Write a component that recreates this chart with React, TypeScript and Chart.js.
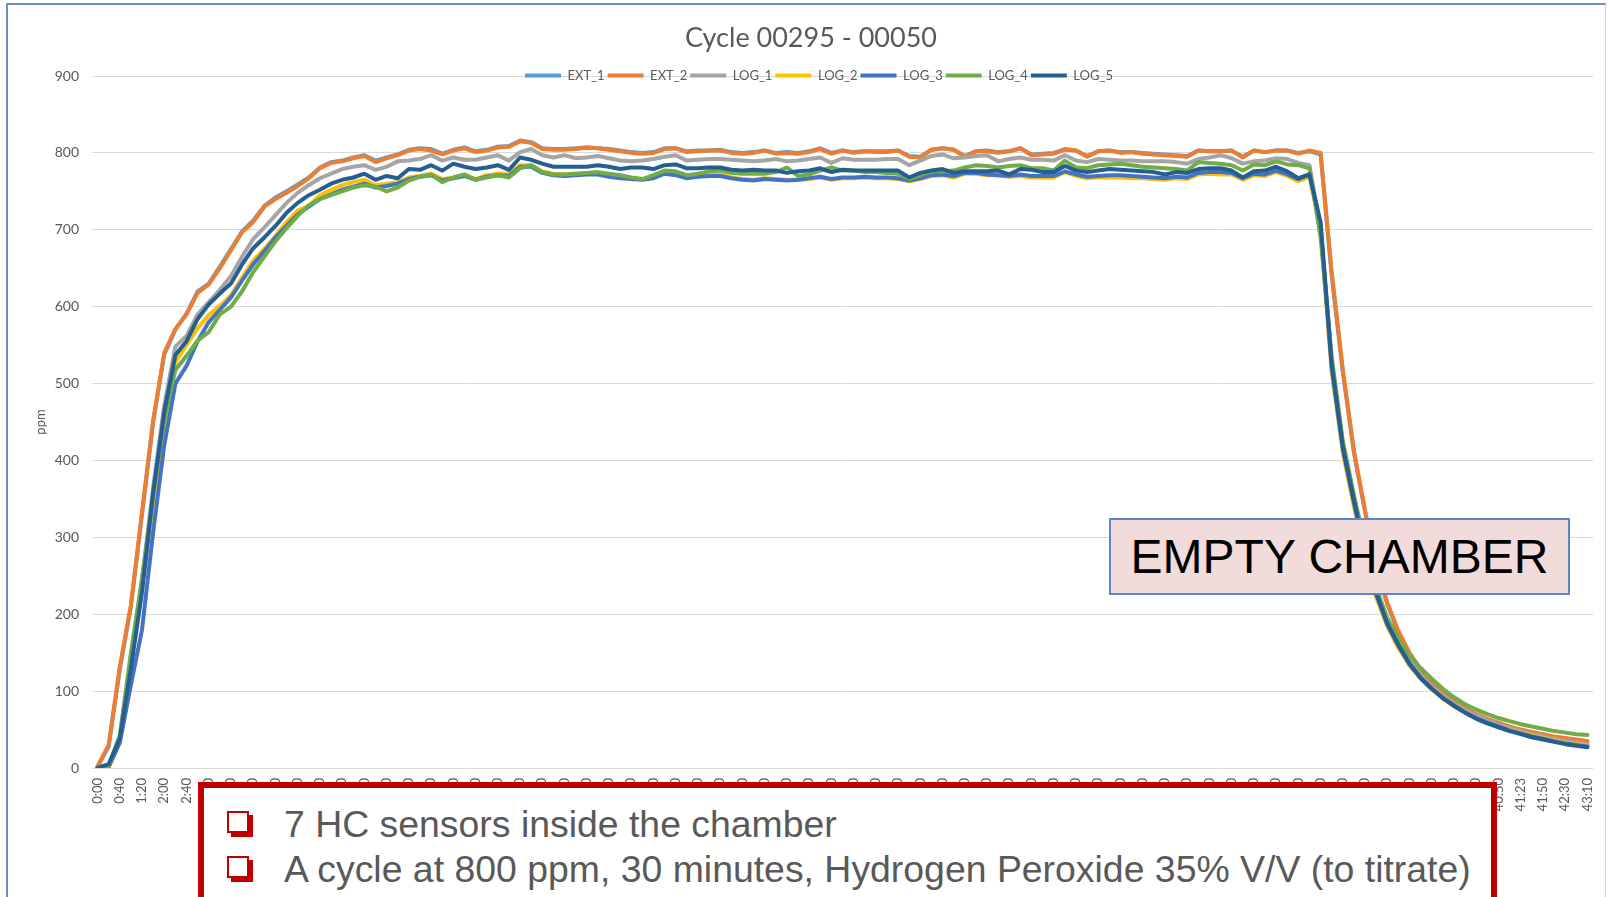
import React, { useEffect, useRef } from 'react';
import { Chart, registerables } from 'chart.js';

Chart.register(...registerables);

// Tick labels shown on the time axis (one every second sample)
const TICK_LABELS = [
  '0:00', '0:40', '1:20', '2:00', '2:40', '3:20', '4:00', '4:40', '5:20', '6:00',
  '6:40', '7:20', '8:00', '8:40', '9:20', '10:00', '10:40', '11:20', '12:00', '12:40',
  '13:20', '14:00', '14:40', '15:20', '16:00', '16:40', '17:20', '18:00', '18:40', '19:20',
  '20:00', '20:40', '21:20', '22:00', '22:40', '23:20', '24:00', '24:30', '25:10', '25:50',
  '26:30', '27:10', '27:50', '28:30', '29:10', '29:50', '30:30', '31:10', '31:50', '32:30',
  '33:10', '33:50', '34:30', '35:10', '35:50', '36:30', '37:10', '37:50', '38:30', '39:10',
  '39:50', '40:10', '40:30', '40:50', '41:23', '41:50', '42:30', '43:10',
];

const SERIES_NAMES = ['EXT_1', 'EXT_2', 'LOG_1', 'LOG_2', 'LOG_3', 'LOG_4', 'LOG_5'];
const SERIES_COLORS = ['#5B9BD5', '#ED7D31', '#A5A5A5', '#FFC000', '#4472C4', '#70AD47', '#255E91'];

const EXT_1 = [
  2, 28, 128, 210, 330, 450, 538, 570, 591, 620, 630, 652, 675, 698, 712, 731, 742, 750, 759, 768,
  781, 788, 790, 794, 797, 790, 794, 798, 804, 806, 805, 799, 804, 807, 802, 804, 808, 809, 816, 814,
  806, 805, 805, 806, 807, 806, 805, 803, 801, 800, 801, 806, 806, 802, 803, 803, 804, 801, 800, 801,
  803, 800, 801, 800, 802, 806, 800, 803, 801, 802, 802, 802, 803, 796, 795, 804, 806, 804, 796, 802,
  803, 801, 802, 806, 798, 799, 800, 805, 803, 796, 802, 803, 801, 801, 800, 799, 798, 797, 796, 803,
  802, 802, 803, 795, 803, 801, 803, 803, 800, 802, 798, 640, 515, 410, 333, 260, 213, 176, 148, 127,
  111, 98, 87, 77, 69, 63, 58, 53, 49, 46, 43, 40, 38, 36, 34,
];

const EXT_2 = [
  2, 30, 132, 212, 333, 452, 540, 571, 590, 618, 629, 650, 673, 697, 710, 730, 740, 748, 757, 767,
  780, 787, 789, 793, 796, 788, 793, 797, 803, 805, 803, 798, 803, 806, 801, 803, 807, 808, 815, 813,
  805, 804, 804, 805, 807, 806, 804, 802, 800, 799, 800, 805, 806, 801, 802, 803, 803, 800, 799, 800,
  803, 799, 800, 799, 801, 805, 799, 803, 800, 802, 801, 801, 803, 795, 794, 804, 806, 804, 795, 802,
  802, 800, 802, 806, 797, 798, 799, 804, 803, 795, 802, 803, 800, 801, 799, 798, 797, 796, 795, 803,
  802, 802, 803, 794, 803, 801, 803, 803, 799, 803, 800, 645, 518, 412, 335, 262, 215, 178, 150, 128,
  112, 99, 88, 78, 70, 64, 59, 54, 50, 47, 44, 41, 39, 37, 35,
];

const LOG_1 = [
  0, 3, 42, 140, 245, 365, 472, 548, 562, 590, 606, 622, 640, 665, 688, 703, 719, 735, 748, 758,
  767, 773, 779, 782, 784, 778, 782, 789, 790, 792, 797, 790, 794, 791, 791, 794, 797, 790, 801, 805,
  797, 794, 797, 793, 794, 796, 793, 790, 789, 790, 792, 795, 797, 790, 791, 792, 792, 791, 790, 789,
  790, 792, 789, 790, 792, 794, 787, 793, 791, 791, 791, 792, 792, 784, 790, 796, 798, 793, 794, 796,
  797, 789, 792, 794, 791, 791, 790, 797, 790, 788, 792, 791, 790, 790, 789, 789, 789, 788, 786, 792,
  794, 797, 793, 786, 789, 790, 793, 792, 787, 784, 700, 528, 422, 352, 288, 232, 192, 163, 139, 120,
  106, 94, 84, 75, 68, 62, 57, 52, 48, 44, 41, 38, 35, 33, 31,
];

const LOG_2 = [
  0, 2, 38, 135, 235, 345, 445, 528, 550, 572, 589, 601, 615, 638, 660, 675, 692, 710, 725, 731,
  745, 752, 758, 762, 765, 758, 760, 762, 768, 770, 773, 766, 768, 771, 766, 771, 773, 773, 784, 784,
  776, 773, 772, 773, 773, 774, 770, 768, 767, 766, 768, 775, 772, 768, 770, 772, 772, 768, 766, 765,
  767, 766, 765, 765, 766, 768, 765, 767, 767, 768, 767, 767, 766, 763, 766, 770, 771, 768, 773, 773,
  771, 771, 769, 770, 768, 768, 768, 775, 770, 767, 768, 768, 768, 767, 767, 766, 765, 767, 766, 772,
  773, 772, 772, 765, 771, 770, 775, 770, 763, 769, 700, 515, 410, 340, 275, 222, 184, 156, 133, 116,
  102, 90, 80, 72, 65, 59, 54, 50, 46, 42, 39, 36, 33, 31, 29,
];

const LOG_3 = [
  0, 1, 33, 108, 180, 307, 420, 500, 523, 555, 580, 596, 612, 634, 655, 672, 690, 705, 720, 730,
  740, 746, 752, 756, 760, 755, 757, 760, 766, 769, 771, 764, 767, 770, 765, 769, 771, 770, 782, 782,
  774, 771, 770, 771, 772, 772, 769, 767, 766, 765, 767, 773, 771, 767, 769, 770, 770, 767, 765, 764,
  766, 765, 764, 765, 767, 769, 766, 768, 768, 769, 768, 768, 767, 764, 767, 771, 772, 770, 774, 774,
  772, 771, 770, 772, 770, 770, 770, 776, 772, 769, 770, 771, 771, 770, 769, 768, 767, 769, 768, 774,
  775, 775, 774, 767, 773, 772, 777, 772, 766, 772, 705, 520, 415, 345, 280, 226, 187, 159, 135, 117,
  103, 91, 81, 72, 65, 59, 54, 49, 45, 41, 38, 35, 32, 30, 28,
];

const LOG_4 = [
  0, 2, 42, 150, 246, 355, 453, 518, 536, 556, 567, 590, 600, 620, 645, 665, 685, 702, 718, 732,
  740, 745, 750, 755, 758, 756, 750, 755, 764, 769, 772, 762, 768, 772, 765, 768, 771, 768, 780, 784,
  775, 772, 772, 773, 774, 775, 773, 771, 768, 766, 771, 777, 776, 771, 773, 776, 777, 774, 773, 773,
  773, 775, 781, 770, 772, 777, 781, 777, 777, 775, 775, 774, 773, 766, 771, 776, 776, 777, 781, 784,
  783, 781, 783, 784, 780, 780, 777, 790, 781, 780, 784, 785, 786, 784, 782, 781, 780, 779, 777, 788,
  787, 786, 784, 777, 785, 784, 789, 785, 784, 780, 690, 535, 425, 355, 290, 235, 195, 168, 146, 130,
  116, 103, 92, 83, 76, 70, 65, 61, 57, 54, 51, 48, 46, 44, 43,
];

const LOG_5 = [
  0, 5, 38, 130, 229, 358, 463, 537, 555, 584, 603, 617, 630, 655, 676, 690, 705, 722, 735, 745,
  752, 760, 765, 768, 773, 765, 770, 767, 779, 778, 784, 777, 786, 782, 779, 781, 784, 778, 794, 791,
  786, 782, 782, 782, 782, 784, 782, 779, 781, 781, 779, 784, 785, 780, 780, 781, 781, 778, 777, 778,
  777, 777, 774, 776, 777, 780, 775, 778, 777, 777, 777, 777, 777, 768, 774, 777, 779, 774, 776, 776,
  776, 777, 772, 779, 778, 775, 775, 783, 777, 775, 777, 779, 778, 777, 776, 775, 772, 775, 774, 779,
  780, 780, 777, 768, 776, 777, 782, 776, 767, 772, 710, 525, 418, 348, 283, 228, 188, 160, 136, 117,
  103, 91, 81, 72, 64, 58, 53, 48, 44, 40, 37, 34, 31, 29, 27,
];

const SERIES_VALUES = [EXT_1, EXT_2, LOG_1, LOG_2, LOG_3, LOG_4, LOG_5];

// one category per sample; only every second category carries a visible label
const CATEGORY_LABELS = TICK_LABELS.flatMap((t, k) => (k < TICK_LABELS.length - 1 ? [t, ''] : [t]));

const GRAY_TEXT = '#595959';

// The legend sits on the top gridline in the original; move it there.
const legendShift = {
  id: 'legendShift',
  beforeDraw(chart: any) {
    const lg = chart.legend;
    if (lg && chart.chartArea) {
      const h = lg.height;
      lg.top = chart.chartArea.top - 10;
      lg.bottom = lg.top + h;
      lg.left = 35;
      lg.right = chart.width - 6;
    }
  },
};

function LineChart() {
  const canvasRef = useRef<HTMLCanvasElement | null>(null);

  useEffect(() => {
    const canvas = canvasRef.current;
    if (!canvas) return;
    const chart = new Chart(canvas, {
      type: 'line',
      data: {
        labels: CATEGORY_LABELS,
        datasets: SERIES_NAMES.map((name, i) => ({
          label: name,
          data: SERIES_VALUES[i],
          borderColor: SERIES_COLORS[i],
          backgroundColor: SERIES_COLORS[i],
          borderWidth: 4,
          pointRadius: 0,
          pointHoverRadius: 0,
          tension: 0,
          fill: false,
          borderJoinStyle: 'round',
          borderCapStyle: 'round',
          order: SERIES_NAMES.length - 1 - i,
        })),
      },
      options: {
        responsive: false,
        animation: false,
        layout: { padding: { left: 29, right: 16, top: 0, bottom: 0 } },
        plugins: {
          title: {
            display: true,
            text: 'Cycle 00295 - 00050',
            color: GRAY_TEXT,
            font: { family: 'Lato', size: 27, weight: 'normal', lineHeight: 1 },
            padding: { top: 24.5, bottom: -1.5 },
          },
          legend: {
            display: true,
            position: 'top',
            align: 'center',
            labels: {
              boxWidth: 36,
              boxHeight: 4,
              padding: 3,
              color: GRAY_TEXT,
              font: { family: 'Lato', size: 13 },
              generateLabels: (chart: any) =>
                (Chart.defaults as any).plugins.legend.labels
                  .generateLabels(chart)
                  .map((l: any) => ({ ...l, lineWidth: 0 })),
              sort: (a: any, b: any) => a.datasetIndex - b.datasetIndex,
            },
          },
          tooltip: { enabled: false },
        },
        scales: {
          x: {
            type: 'category',
            offset: true,
            grid: { display: false, drawTicks: false },
            border: { display: false },
            ticks: {
              autoSkip: false,
              minRotation: 90,
              maxRotation: 90,
              padding: 10,
              color: GRAY_TEXT,
              font: { family: 'Lato', size: 13 },
            },
            afterFit: (s: any) => {
              s.height = 129;
              s.paddingLeft = 0;
              s.paddingRight = 0;
            },
          },
          y: {
            min: 0,
            max: 900,
            ticks: {
              stepSize: 100,
              padding: 13,
              color: GRAY_TEXT,
              font: { family: 'Lato', size: 14 },
            },
            grid: { color: '#D9D9D9', lineWidth: 1, drawTicks: false },
            border: { display: false },
            title: {
              display: true,
              text: 'ppm',
              color: GRAY_TEXT,
              font: { family: 'Lato', size: 13 },
              padding: { top: 4, bottom: 0 },
            },
            afterFit: (s: any) => {
              s.width = 63;
            },
          },
        },
      } as any,
      plugins: [legendShift],
    });
    return () => chart.destroy();
  }, []);

  return (
    <canvas
      ref={canvasRef}
      width={1609}
      height={897}
      style={{ position: 'absolute', left: 0, top: 0, width: 1609, height: 897 }}
    />
  );
}

const bulletStyle = (top: number): React.CSSProperties => ({
  position: 'absolute',
  left: 227,
  top,
  width: 18,
  height: 18,
  border: '2px solid #C00000',
  boxShadow: '4px 4px 0 #C00000',
  background: '#fff',
});

const noteText = (top: number): React.CSSProperties => ({
  position: 'absolute',
  left: 284,
  top,
  fontFamily: '"Liberation Sans", Arial, sans-serif',
  fontSize: 37.4,
  lineHeight: '37px',
  color: GRAY_TEXT,
  whiteSpace: 'nowrap',
});

export default function App() {
  return (
    <div
      style={{
        position: 'absolute',
        left: 0,
        top: 0,
        width: 1609,
        height: 897,
        overflow: 'hidden',
        background: '#fff',
      }}
    >
      <LineChart />
      <div
        style={{
          position: 'absolute',
          left: 6,
          top: 3,
          width: 1600,
          height: 1000,
          boxSizing: 'border-box',
          borderLeft: '2px solid #6A8FC8',
          borderTop: '2px solid #6A8FC8',
          borderRight: '1px solid #D6D6D6',
          pointerEvents: 'none',
        }}
      />
      <div
        style={{
          position: 'absolute',
          left: 1109,
          top: 518,
          width: 461,
          height: 77,
          boxSizing: 'border-box',
          border: '2px solid #5B86C4',
          background: '#F2DCDB',
          display: 'flex',
          alignItems: 'center',
          justifyContent: 'center',
          fontFamily: '"Liberation Sans", Arial, sans-serif',
          fontSize: 48,
          lineHeight: '48px',
          color: '#000',
          whiteSpace: 'nowrap',
        }}
      >
        EMPTY CHAMBER
      </div>
      <div
        style={{
          position: 'absolute',
          left: 198,
          top: 782,
          width: 1299,
          height: 160,
          boxSizing: 'border-box',
          border: '6px solid #C00000',
          background: '#fff',
        }}
      />
      <div style={bulletStyle(811)} />
      <div style={noteText(806)}>7 HC sensors inside the chamber</div>
      <div style={bulletStyle(856)} />
      <div style={noteText(851)}>
        A cycle at 800 ppm, 30 minutes, Hydrogen Peroxide 35% V/V (to titrate)
      </div>
    </div>
  );
}
